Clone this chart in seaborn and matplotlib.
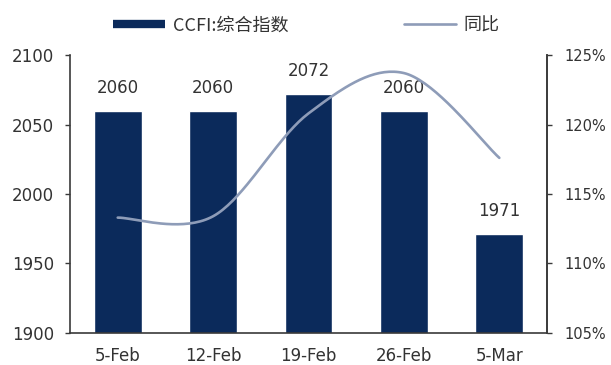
import numpy as np
import pandas as pd
import matplotlib
matplotlib.use("Agg")
import matplotlib.pyplot as plt
from matplotlib.lines import Line2D
import matplotlib.ticker as mticker
import seaborn as sns

# Weekly CCFI composite index and its year-on-year ratio
dates = ["5-Feb", "12-Feb", "19-Feb", "26-Feb", "5-Mar"]
ccfi = [2060, 2060, 2072, 2060, 1971]
yoy = [113.3, 113.4, 120.8, 123.7, 117.6]  # percent

bar_color = "#0b2a5b"
line_color = "#8e9cb8"
axis_color = "#3a3a3a"
text_color = "#333333"
fs = 12

sns.set_theme(style="white")
plt.rcParams["font.family"] = ["DejaVu Sans", "Noto Sans CJK SC"]

fig = plt.figure(figsize=(6.11, 3.65), dpi=100)
ax = fig.add_axes([0.1146, 0.0877, 0.7807, 0.7616])

df = pd.DataFrame({"date": dates, "ccfi": ccfi})
sns.barplot(data=df, x="date", y="ccfi", color=bar_color, width=0.5,
            saturation=1, ax=ax)
ax.set_ylim(1900, 2100)
ax.set_yticks([1900, 1950, 2000, 2050, 2100])
ax.set_xlabel("")
ax.set_ylabel("")
ax.bar_label(ax.containers[0], labels=[f"{v}" for v in ccfi], padding=10,
             fontsize=fs, color=text_color)

# Smoothed line on the secondary axis (cubic Bezier through each point)
ax2 = ax.twinx()
xs = np.arange(len(yoy), dtype=float)
ys = np.asarray(yoy, dtype=float)
px = np.concatenate([[xs[0]], xs, [xs[-1]]])
py = np.concatenate([[ys[0]], ys, [ys[-1]]])
t = np.linspace(0, 1, 40)
cx, cy = [], []
for i in range(len(xs) - 1):
    p0 = np.array([px[i], py[i]])
    p1 = np.array([px[i + 1], py[i + 1]])
    p2 = np.array([px[i + 2], py[i + 2]])
    p3 = np.array([px[i + 3], py[i + 3]])
    c1 = p1 + (p2 - p0) / 6.0
    c2 = p2 - (p3 - p1) / 6.0
    b = ((1 - t) ** 3)[:, None] * p1 + (3 * (1 - t) ** 2 * t)[:, None] * c1 \
        + (3 * (1 - t) * t ** 2)[:, None] * c2 + (t ** 3)[:, None] * p2
    cx.extend(b[:, 0])
    cy.extend(b[:, 1])
sns.lineplot(x=cx, y=cy, ax=ax2, color=line_color, linewidth=1.9,
             sort=False, estimator=None)
ax2.set_ylim(105, 125)
ax2.set_yticks([105, 110, 115, 120, 125])
ax2.yaxis.set_major_formatter(mticker.FuncFormatter(lambda v, p: f"{v:.0f}%"))
ax.set_xlim(-0.5, len(dates) - 0.5)

for a in (ax, ax2):
    a.spines["top"].set_visible(False)
    for s in ("left", "right", "bottom"):
        a.spines[s].set_color(axis_color)
        a.spines[s].set_linewidth(1.2)
    a.grid(False)

ax.tick_params(axis="y", direction="out", length=3.5, width=1,
               color=axis_color, labelsize=fs, labelcolor=text_color, pad=8)
ax.tick_params(axis="x", length=0, labelsize=fs, labelcolor=text_color, pad=10)
ax2.tick_params(axis="y", direction="out", length=3.5, width=1,
                color=axis_color, labelsize=10.5, labelcolor=text_color, pad=9)
ax2.spines["left"].set_visible(False)
ax2.spines["bottom"].set_visible(False)

handles = [
    Line2D([0], [0], color=bar_color, linewidth=6, solid_capstyle="butt"),
    Line2D([0], [0], color=line_color, linewidth=1.9),
]
fig.legend(handles, ["CCFI:综合指数", "同比"], loc="center left",
           bbox_to_anchor=(113 / 611, 0.93), ncol=2, frameon=False,
           borderpad=0, borderaxespad=0,
           handlelength=2.9, handletextpad=0.4, columnspacing=6.4,
           labelcolor=text_color,
           prop={"family": ["Noto Sans CJK SC", "DejaVu Sans"], "size": 13})

fig.savefig("out.png", dpi=100)
